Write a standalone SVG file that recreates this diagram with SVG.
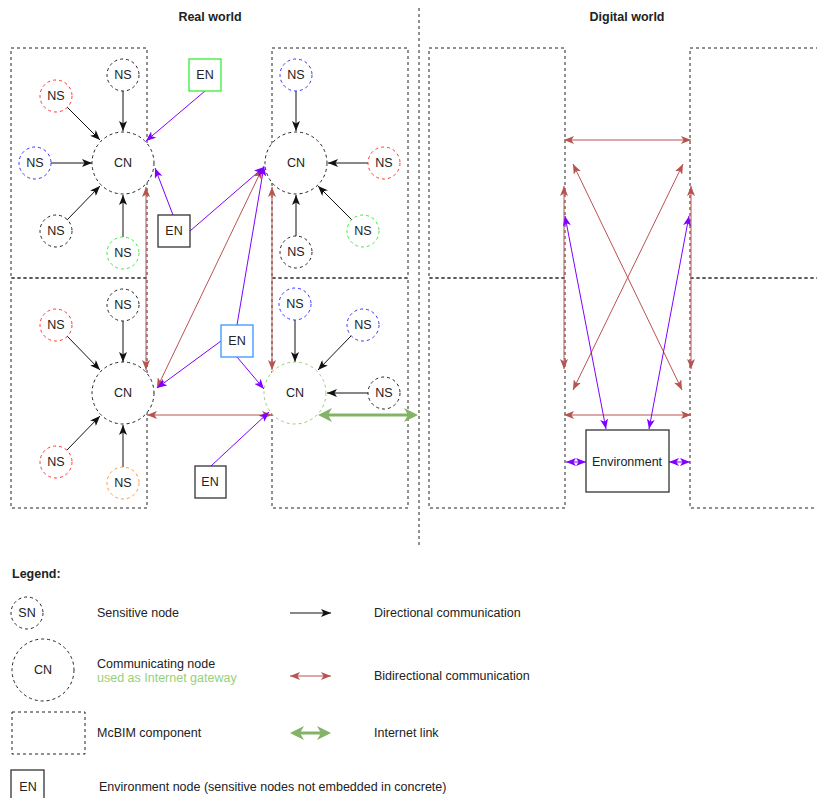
<svg xmlns="http://www.w3.org/2000/svg" width="817" height="798" viewBox="0 0 817 798">
  <style>
    .box { fill: none; stroke: #222; stroke-width: 1; stroke-dasharray: 3 3; }
    .sep { fill: none; stroke: #222; stroke-width: 1; stroke-dasharray: 3 3; }
    .nd { fill: #fff; stroke-width: 1; stroke-dasharray: 3 3; }
    .k { stroke: #222; }
    .r { stroke: #ff3333; }
    .bl { stroke: #3333ff; }
    .g { stroke: #33ee33; }
    .o { stroke: #ff9933; }
    .gw { stroke: #97d077; }
    .en { fill: #fff; stroke: #333; stroke-width: 1.3; }
    .t { font-family: "Liberation Sans", Arial, sans-serif; font-size: 12.5px; fill: #222; text-anchor: middle; }
    .tl { text-anchor: start; }
    .b { font-weight: bold; }
    .c-dir { stroke: #111; stroke-width: 1; fill: none; marker-end: url(#arrK); }
    .c-pur { stroke: #7f00ff; stroke-width: 1; fill: none; marker-end: url(#arrP); }
    .c-pur2 { stroke: #7f00ff; stroke-width: 1; fill: none; marker-start: url(#arrP); marker-end: url(#arrP); }
    .c-red { stroke: #b85450; stroke-width: 1; fill: none; marker-start: url(#arrR); marker-end: url(#arrR); }
    .c-net { stroke: #82b366; stroke-width: 3; fill: none; marker-start: url(#arrG); marker-end: url(#arrG); }
  </style>
  <defs>
    <marker id="arrK" viewBox="0 0 10 8" refX="10" refY="4" markerWidth="10" markerHeight="8" markerUnits="userSpaceOnUse" orient="auto-start-reverse">
      <path d="M0,0 L10,4 L0,8 L2.5,4 Z" fill="#111"/>
    </marker>
    <marker id="arrP" viewBox="0 0 10 8" refX="10" refY="4" markerWidth="10" markerHeight="8" markerUnits="userSpaceOnUse" orient="auto-start-reverse">
      <path d="M0,0 L10,4 L0,8 L2.5,4 Z" fill="#7f00ff"/>
    </marker>
    <marker id="arrR" viewBox="0 0 10 8" refX="10" refY="4" markerWidth="10" markerHeight="8" markerUnits="userSpaceOnUse" orient="auto-start-reverse">
      <path d="M0,0 L10,4 L0,8 L2.5,4 Z" fill="#b85450"/>
    </marker>
    <marker id="arrG" viewBox="0 0 14 14" refX="4" refY="7" markerWidth="14" markerHeight="14" markerUnits="userSpaceOnUse" orient="auto-start-reverse">
      <path d="M0,0 L14,7 L0,14 L4,7 Z" fill="#82b366"/>
    </marker>
  </defs>

  <rect width="817" height="798" fill="#fff"/>

  <!-- headings and world separator -->
  <text class="t b" x="210" y="21">Real world</text>
  <text class="t b" x="627" y="21">Digital world</text>
  <line class="sep" x1="419" y1="8" x2="419" y2="548"/>

  <!-- McBIM components -->
  <g id="components">
    <rect class="box" x="11" y="48" width="136" height="230"/>
    <rect class="box" x="11" y="278" width="136" height="230"/>
    <rect class="box" x="272" y="48" width="136" height="230"/>
    <rect class="box" x="272" y="278" width="136" height="230"/>
    <rect class="box" x="429" y="48" width="136" height="230"/>
    <rect class="box" x="429" y="278" width="136" height="230"/>
    <rect class="box" x="690" y="48" width="136" height="230"/>
    <rect class="box" x="690" y="278" width="136" height="230"/>
  </g>

  <!-- connectors -->
  <g id="connectors">
    <!-- sensitive nodes to communicating nodes -->
    <line class="c-dir" x1="123" y1="91" x2="123" y2="131"/>
    <line class="c-dir" x1="67" y1="107" x2="100" y2="140"/>
    <line class="c-dir" x1="51" y1="163" x2="92" y2="163"/>
    <line class="c-dir" x1="67" y1="220" x2="100" y2="186"/>
    <line class="c-dir" x1="123" y1="237" x2="123" y2="195"/>

    <line class="c-dir" x1="296" y1="91" x2="296" y2="131"/>
    <line class="c-dir" x1="368" y1="163" x2="328" y2="163"/>
    <line class="c-dir" x1="352" y1="220" x2="318" y2="186"/>
    <line class="c-dir" x1="296" y1="236" x2="296" y2="195"/>

    <line class="c-dir" x1="123" y1="320" x2="123" y2="362"/>
    <line class="c-dir" x1="67" y1="336" x2="100" y2="370"/>
    <line class="c-dir" x1="67" y1="450" x2="100" y2="416"/>
    <line class="c-dir" x1="123" y1="467" x2="123" y2="425"/>

    <line class="c-dir" x1="295" y1="320" x2="295" y2="362"/>
    <line class="c-dir" x1="351" y1="336" x2="318" y2="370"/>
    <line class="c-dir" x1="368" y1="393" x2="327" y2="393"/>

    <!-- communicating node links -->
    <line class="c-red" x1="146" y1="187" x2="146" y2="370"/>
    <line class="c-red" x1="272" y1="187" x2="272" y2="370"/>
    <line class="c-red" x1="262" y1="169" x2="157" y2="388"/>
    <line class="c-red" x1="147" y1="415" x2="272" y2="415"/>

    <!-- environment nodes -->
    <line class="c-pur" x1="205" y1="91" x2="146" y2="141"/>
    <line class="c-pur" x1="173" y1="215" x2="155" y2="168"/>
    <line class="c-pur" x1="190" y1="231" x2="264" y2="167"/>
    <line class="c-pur" x1="237" y1="325" x2="264" y2="166"/>
    <line class="c-pur" x1="221" y1="341" x2="157" y2="388"/>
    <line class="c-pur" x1="237" y1="357" x2="264" y2="389"/>
    <line class="c-pur" x1="211" y1="466" x2="269" y2="412"/>

    <!-- internet link -->
    <line class="c-net" x1="328" y1="415" x2="408" y2="415"/>

    <!-- digital twins -->
    <line class="c-red" x1="564" y1="140" x2="691" y2="140"/>
    <line class="c-red" x1="564" y1="186" x2="564" y2="369"/>
    <line class="c-red" x1="691" y1="186" x2="691" y2="369"/>
    <line class="c-red" x1="573" y1="164" x2="682" y2="390"/>
    <line class="c-red" x1="683" y1="164" x2="573" y2="390"/>
    <line class="c-red" x1="564" y1="415" x2="691" y2="415"/>

    <line class="c-pur2" x1="565" y1="216" x2="606" y2="429"/>
    <line class="c-pur2" x1="689" y1="216" x2="649" y2="429"/>
    <line class="c-pur2" x1="566" y1="462" x2="586" y2="462"/>
    <line class="c-pur2" x1="669" y1="462" x2="690" y2="462"/>
  </g>

  <!-- top-left component -->
  <g id="cn-tl"><circle class="nd k" cx="123" cy="163" r="31"/><text class="t" x="123" y="167">CN</text></g>
  <g id="ns-tl-1"><circle class="nd k" cx="123" cy="75" r="16"/><text class="t" x="123" y="79">NS</text></g>
  <g id="ns-tl-2"><circle class="nd r" cx="56" cy="96" r="16"/><text class="t" x="56" y="100">NS</text></g>
  <g id="ns-tl-3"><circle class="nd bl" cx="35" cy="163" r="16"/><text class="t" x="35" y="167">NS</text></g>
  <g id="ns-tl-4"><circle class="nd k" cx="56" cy="231" r="16"/><text class="t" x="56" y="235">NS</text></g>
  <g id="ns-tl-5"><circle class="nd g" cx="123" cy="253" r="16"/><text class="t" x="123" y="257">NS</text></g>

  <!-- top-middle component -->
  <g id="cn-tm"><circle class="nd k" cx="296" cy="163" r="31"/><text class="t" x="296" y="167">CN</text></g>
  <g id="ns-tm-1"><circle class="nd bl" cx="296" cy="75" r="16"/><text class="t" x="296" y="79">NS</text></g>
  <g id="ns-tm-2"><circle class="nd r" cx="384" cy="163" r="16"/><text class="t" x="384" y="167">NS</text></g>
  <g id="ns-tm-3"><circle class="nd g" cx="363" cy="231" r="16"/><text class="t" x="363" y="235">NS</text></g>
  <g id="ns-tm-4"><circle class="nd k" cx="296" cy="252" r="16"/><text class="t" x="296" y="256">NS</text></g>

  <!-- bottom-left component -->
  <g id="cn-bl"><circle class="nd k" cx="123" cy="393" r="31"/><text class="t" x="123" y="397">CN</text></g>
  <g id="ns-bl-1"><circle class="nd k" cx="123" cy="305" r="16"/><text class="t" x="123" y="309">NS</text></g>
  <g id="ns-bl-2"><circle class="nd r" cx="56" cy="325" r="16"/><text class="t" x="56" y="329">NS</text></g>
  <g id="ns-bl-3"><circle class="nd r" cx="56" cy="462" r="16"/><text class="t" x="56" y="466">NS</text></g>
  <g id="ns-bl-4"><circle class="nd o" cx="123" cy="483" r="16"/><text class="t" x="123" y="487">NS</text></g>

  <!-- bottom-middle component (gateway) -->
  <g id="cn-bm"><circle class="nd gw" cx="295" cy="393" r="31"/><text class="t" x="295" y="397">CN</text></g>
  <g id="ns-bm-1"><circle class="nd bl" cx="295" cy="304" r="16"/><text class="t" x="295" y="308">NS</text></g>
  <g id="ns-bm-2"><circle class="nd bl" cx="363" cy="325" r="16"/><text class="t" x="363" y="329">NS</text></g>
  <g id="ns-bm-3"><circle class="nd k" cx="384" cy="393" r="16"/><text class="t" x="384" y="397">NS</text></g>

  <!-- environment nodes -->
  <g id="en-1"><rect class="en" x="189" y="59" width="32" height="32" style="stroke:#33ee33"/><text class="t" x="205" y="79">EN</text></g>
  <g id="en-2"><rect class="en" x="158" y="215" width="32" height="32"/><text class="t" x="174" y="235">EN</text></g>
  <g id="en-3"><rect class="en" x="221" y="325" width="32" height="32" style="stroke:#3399ff"/><text class="t" x="237" y="345">EN</text></g>
  <g id="en-4"><rect class="en" x="195" y="466" width="31" height="32"/><text class="t" x="210" y="486">EN</text></g>

  <!-- environment -->
  <g id="environment"><rect class="en" x="586" y="430" width="83" height="62"/><text class="t" x="627" y="466">Environment</text></g>

  <!-- legend -->
  <g id="legend">
    <text class="t tl b" x="12" y="578">Legend:</text>

    <circle class="nd k" cx="27" cy="613" r="16"/>
    <text class="t" x="27" y="617">SN</text>
    <text class="t tl" x="97" y="617">Sensitive node</text>
    <line class="c-dir" x1="290" y1="613" x2="331" y2="613"/>
    <text class="t tl" x="374" y="617">Directional communication</text>

    <circle class="nd k" cx="43" cy="670" r="31"/>
    <text class="t" x="43" y="674">CN</text>
    <text class="t tl" x="97" y="668">Communicating node</text>
    <text class="t tl" x="97" y="682" style="fill:#97d077">used as Internet gateway</text>
    <line class="c-red" x1="290" y1="676" x2="331" y2="676"/>
    <text class="t tl" x="374" y="680">Bidirectional communication</text>

    <rect class="box" x="12" y="712" width="73" height="42"/>
    <text class="t tl" x="97" y="737">McBIM component</text>
    <line class="c-net" x1="300" y1="733" x2="321" y2="733"/>
    <text class="t tl" x="374" y="737">Internet link</text>

    <rect class="en" x="11" y="770" width="33" height="34"/>
    <text class="t" x="28" y="791">EN</text>
    <text class="t tl" x="99" y="791">Environment node (sensitive nodes not embedded in concrete)</text>
  </g>
</svg>
